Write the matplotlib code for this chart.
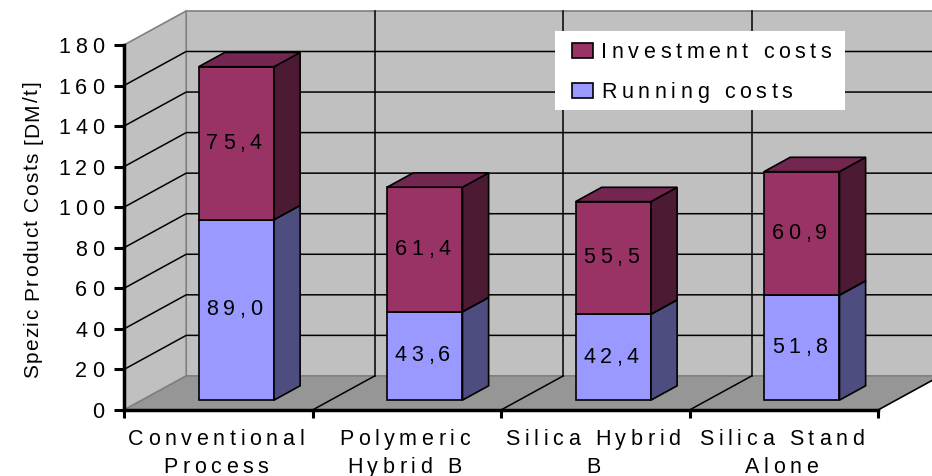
import math
import matplotlib
matplotlib.use("Agg")
import matplotlib.pyplot as plt
from matplotlib.patches import Polygon, Rectangle
from matplotlib.text import Text
from matplotlib.transforms import IdentityTransform

plt.rcParams['font.family'] = ['Liberation Sans', 'DejaVu Sans']

# --- data -------------------------------------------------------------
categories = ["Conventional\nProcess", "Polymeric\nHybrid B",
              "Silica Hybrid\nB", "Silica Stand\nAlone"]
running_costs = [89.0, 43.6, 42.4, 51.8]
investment_costs = [75.4, 61.4, 55.5, 60.9]
y_ticks = [0, 20, 40, 60, 80, 100, 120, 140, 160, 180]
y_label = "Spezic Product Costs [DM/t]"

# --- pseudo-3D geometry (data units) -----------------------------------
DX, DY = 0.33, 16.8      # full depth vector of the chart box
F0, F1 = 0.29, 0.71      # depth span occupied by the columns
HALF_W = 0.2             # half width of a column (category units)
YMAX = y_ticks[-1]
NCAT = len(categories)
FS = 15.5                # common font size (pt)
TRACK = 0.215            # letter spacing, in em


class SpacedText(Text):
    """Text drawn with extra letter spacing (tracking), keeping its string."""

    def draw(self, renderer):
        if not self.get_visible() or self.get_text() == '':
            return
        prop = self.get_fontproperties()
        size_px = renderer.points_to_pixels(prop.get_size_in_points())
        track = getattr(self, '_tracking', TRACK) * size_px

        def width(s):
            return renderer.get_text_width_height_descent(s, prop, ismath=False)[0]

        _, h_lp, d_lp = renderer.get_text_width_height_descent('lp', prop, ismath=False)
        ascent = h_lp - d_lp
        pitch = getattr(self, '_linespacing', 1.2) * size_px
        lines = self.get_text().split('\n')
        n = len(lines)
        block_h = ascent + (n - 1) * pitch + d_lp

        x0, y0 = self.get_transform().transform(self.get_unitless_position())
        angle = self.get_rotation()
        ca, sa = math.cos(math.radians(angle)), math.sin(math.radians(angle))
        va = self.get_verticalalignment()
        if va == 'top':
            base0 = -ascent
        elif va == 'bottom':
            base0 = block_h - ascent
        elif va == 'center':
            base0 = block_h / 2 - ascent
        elif va == 'center_baseline':
            base0 = -ascent / 2 + (n - 1) * pitch / 2
        else:
            base0 = 0.0
        ha = self.get_horizontalalignment()
        for i, line in enumerate(lines):
            v = base0 - i * pitch
            # each glyph carries its trailing letter space
            lw = width(line) + len(line) * track
            if ha == 'center':
                left = -lw / 2
            elif ha == 'right':
                left = -lw
            else:
                left = 0.0
            for k, ch in enumerate(line):
                if ch.isspace():
                    continue
                u = left + width(line[:k + 1]) - width(ch) + k * track
                glyph = Text(x0 + u * ca - v * sa, y0 + u * sa + v * ca, ch,
                             transform=IdentityTransform(), ha='left',
                             va='baseline', rotation=angle,
                             rotation_mode='anchor', fontproperties=prop,
                             color=self.get_color(), alpha=self.get_alpha(),
                             clip_on=False)
                glyph.set_figure(self.figure)
                glyph.draw(renderer)


def spaced(t, tracking=TRACK):
    t.__class__ = SpacedText
    t._tracking = tracking
    return t


def proj(x, y, f):
    """Project a point at depth fraction f onto the 2-D axes."""
    return (x + f * DX, y + f * DY)


fig = plt.figure(figsize=(9.32, 4.76), dpi=100)
ax = fig.add_axes([124 / 932, 66 / 476, 754 / 932, 365 / 476])
ax.set_xlim(0, NCAT)
ax.set_ylim(0, YMAX)
ax.patch.set_visible(False)

wall_fc, wall_ec, floor_fc = '#c0c0c0', '#808080', '#969696'

# walls and floor
left_wall = [proj(0, 0, 0), proj(0, YMAX, 0), proj(0, YMAX, 1), proj(0, 0, 1)]
back_wall = [proj(0, 0, 1), proj(0, YMAX, 1), proj(NCAT, YMAX, 1), proj(NCAT, 0, 1)]
floor = [proj(0, 0, 0), proj(NCAT, 0, 0), proj(NCAT, 0, 1), proj(0, 0, 1)]
for pts, fc in ((back_wall, wall_fc), (left_wall, wall_fc), (floor, floor_fc)):
    ax.add_patch(Polygon(pts, closed=True, facecolor=fc, edgecolor=wall_ec,
                         linewidth=1.2, clip_on=False, zorder=1))

# horizontal gridlines on side and back walls
for v in y_ticks[1:-1]:
    p0, p1, p2 = proj(0, v, 0), proj(0, v, 1), proj(NCAT, v, 1)
    ax.plot([p0[0], p1[0], p2[0]], [p0[1], p1[1], p2[1]], color='black',
            linewidth=1.1, clip_on=False, zorder=2)

# vertical gridlines on back wall and dividers on the floor
for i in range(1, NCAT + 1):
    if i < NCAT:
        b0, b1 = proj(i, 0, 1), proj(i, YMAX, 1)
        ax.plot([b0[0], b1[0]], [b0[1], b1[1]], color='black',
                linewidth=1.1, clip_on=False, zorder=2)
    f0, f1 = proj(i, 0, 0), proj(i, 0, 1)
    ax.plot([f0[0], f1[0]], [f0[1], f1[1]], color='black',
            linewidth=1.1, clip_on=False, zorder=2)

# --- stacked columns ---------------------------------------------------
series = [
    ("Running costs", running_costs, ('#9999ff', '#7373bf', '#4d4d80')),
    ("Investment costs", investment_costs, ('#993366', '#732650', '#4d1a33')),
]

handles = {}
for ci in range(NCAT):
    c = ci + 0.5
    xl, xr = c - HALF_W, c + HALF_W
    bottom = 0.0
    for name, vals, (front_c, top_c, side_c) in series:
        top = bottom + vals[ci]
        front = Polygon([proj(xl, bottom, F0), proj(xr, bottom, F0),
                         proj(xr, top, F0), proj(xl, top, F0)],
                        facecolor=front_c, edgecolor='black', linewidth=1.2,
                        clip_on=False, zorder=3)
        side = Polygon([proj(xr, bottom, F0), proj(xr, bottom, F1),
                        proj(xr, top, F1), proj(xr, top, F0)],
                       facecolor=side_c, edgecolor='black', linewidth=1.2,
                       clip_on=False, zorder=3)
        lid = Polygon([proj(xl, top, F0), proj(xr, top, F0),
                       proj(xr, top, F1), proj(xl, top, F1)],
                      facecolor=top_c, edgecolor='black', linewidth=1.2,
                      clip_on=False, zorder=3)
        for p in (front, side, lid):
            ax.add_patch(p)
        handles.setdefault(name, front)
        lx, ly = proj(c, bottom + vals[ci] / 2, F0)
        spaced(ax.text(lx, ly, f"{vals[ci]:.1f}".replace('.', ','),
                       ha='center', va='center', fontsize=FS, color='black',
                       zorder=4))
        bottom = top

# --- axes decoration ---------------------------------------------------
for s in ('top', 'right'):
    ax.spines[s].set_visible(False)
for s in ('left', 'bottom'):
    ax.spines[s].set_linewidth(2.5)
    ax.spines[s].set_zorder(5)

ax.set_yticks(y_ticks)
ax.set_yticklabels([str(t) for t in y_ticks])
ax.tick_params(axis='y', direction='out', length=7, width=2.2, labelsize=FS,
               pad=4.2)

ax.set_xticks(range(NCAT + 1))
ax.set_xticklabels([])
ax.set_xticks([i + 0.5 for i in range(NCAT)], minor=True)
ax.set_xticklabels(categories, minor=True, fontsize=FS, linespacing=1.26)
ax.tick_params(axis='x', which='major', direction='out', length=6, width=2.2)
ax.tick_params(axis='x', which='minor', length=0, pad=14.0)

for t in ax.get_yticklabels():
    spaced(t)
for t in ax.get_xticklabels(minor=True):
    spaced(t)

spaced(fig.text(32.5 / 932, 1 - 229 / 476, y_label, rotation=90,
                ha='center', va='center', fontsize=15), 0.065)

# legend on a white panel
ax.add_patch(Rectangle((555 / 932, 1 - 110 / 476), 290 / 932, 79 / 476,
                       transform=fig.transFigure, facecolor='white',
                       edgecolor='none', clip_on=False, zorder=5.5))
leg = ax.legend([handles["Investment costs"], handles["Running costs"]],
                ["Investment costs", "Running costs"],
                loc='upper left', bbox_to_anchor=(572 / 932, 1 - 42 / 476),
                bbox_transform=fig.transFigure, fontsize=FS, frameon=False,
                handlelength=0.98, handleheight=0.75, handletextpad=0.37,
                labelspacing=0.88, borderpad=0, borderaxespad=0)
leg.set_zorder(6)
for t in leg.get_texts():
    spaced(t)

fig.savefig("out.png", dpi=100, facecolor='white')
